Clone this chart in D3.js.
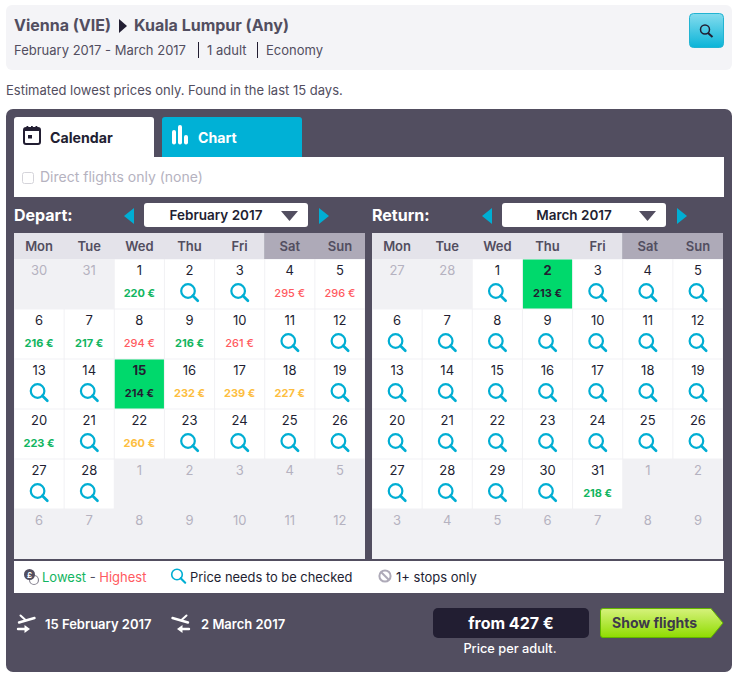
<!DOCTYPE html>
<html>
<head>
<meta charset="utf-8">
<script src="https://cdn.jsdelivr.net/npm/d3@7"></script>
<style>
  body { margin: 0; background: white; }
  text { font-family: Inter, "Noto Sans", sans-serif; }
</style>
</head>
<body>
<svg id="chart" width="739" height="680"></svg>
<script>
const svg = d3.select("#chart");
const days = ["Mon", "Tue", "Wed", "Thu", "Fri", "Sat", "Sun"];
const bandColor = {low: "#12b561", mid: "#fdbe3f", high: "#ff5a60"};

// price per day, band is the colour the site gives it
const months = [
  {
    label: "Depart:", title: "February 2017", x: 14, lead: [30, 31], count: 28,
    trail: [1, 2, 3, 4, 5, 6, 7, 8, 9, 10, 11, 12], selected: 15,
    prices: {
      1: [220, "low"], 4: [295, "high"], 5: [296, "high"], 6: [216, "low"], 7: [217, "low"],
      8: [294, "high"], 9: [216, "low"], 10: [261, "high"], 15: [214, "low"], 16: [232, "mid"],
      17: [239, "mid"], 18: [227, "mid"], 20: [223, "low"], 22: [260, "mid"]
    }
  },
  {
    label: "Return:", title: "March 2017", x: 372, lead: [27, 28], count: 31,
    trail: [1, 2, 3, 4, 5, 6, 7, 8, 9], selected: 2,
    prices: {2: [213, "low"], 31: [218, "low"]}
  }
];

function rect(x, y, w, h, fill, r) {
  return svg.append("rect").attr("x", x).attr("y", y).attr("width", w).attr("height", h)
    .attr("fill", fill).attr("rx", r || 0);
}
function label(x, y, str, size, weight, color, anchor) {
  return svg.append("text").attr("x", x).attr("y", y).text(str)
    .attr("font-size", size).attr("font-weight", weight).attr("fill", color)
    .attr("text-anchor", anchor || "start");
}
function lens(g, cx, cy, r, len, w) {
  g.append("circle").attr("cx", cx).attr("cy", cy).attr("r", r)
    .attr("fill", "none").attr("stroke", "#00aed3").attr("stroke-width", w);
  g.append("line").attr("x1", cx + r * 0.7).attr("y1", cy + r * 0.7)
    .attr("x2", cx + r * 0.7 + len).attr("y2", cy + r * 0.7 + len)
    .attr("stroke", "#00aed3").attr("stroke-width", w + 0.5).attr("stroke-linecap", "round");
}

// gradients
const defs = svg.append("defs");
function grad(id, a, b) {
  const g = defs.append("linearGradient").attr("id", id).attr("x1", 0).attr("x2", 0).attr("y1", 0).attr("y2", 1);
  g.append("stop").attr("offset", "0%").attr("stop-color", a);
  g.append("stop").attr("offset", "100%").attr("stop-color", b);
}
grad("btnBlue", "#85dcee", "#0bb4d8");
grad("btnGreen", "#d6f27c", "#8fdc00");

// top box
rect(6, 5, 726, 65, "#f4f4f7", 6);
label(14, 31, "Vienna (VIE)", 16, 700, "#524e60");
svg.append("path").attr("d", "M119 19 L127 26 L119 33 Z").attr("fill", "#221e32");
label(134, 31, "Kuala Lumpur (Any)", 16, 700, "#524e60");
label(14, 55, "February 2017 - March 2017", 13, 400, "#524e60");
rect(198, 42, 1, 16, "#221e32");
label(207, 55, "1 adult", 13, 400, "#524e60");
rect(257, 42, 1, 16, "#221e32");
label(266, 55, "Economy", 13, 400, "#524e60");
svg.append("rect").attr("x", 689.5).attr("y", 13.5).attr("width", 34).attr("height", 34).attr("rx", 4)
  .attr("fill", "url(#btnBlue)").attr("stroke", "#22b4d2");
svg.append("circle").attr("cx", 705).attr("cy", 29.5).attr("r", 4.5).attr("fill", "none").attr("stroke", "#221e32").attr("stroke-width", 1.5);
svg.append("line").attr("x1", 708).attr("y1", 33).attr("x2", 712.5).attr("y2", 37).attr("stroke", "#221e32").attr("stroke-width", 2);

label(6, 95, "Estimated lowest prices only. Found in the last 15 days.", 13, 400, "#524e60");

// main panel
rect(6, 109, 726, 563, "#524e60", 7);

// tabs
svg.append("path").attr("d", "M14 157 V120 Q14 117 17 117 H151 Q154 117 154 120 V157 Z").attr("fill", "white");
svg.append("path").attr("d", "M162 157 V120 Q162 117 165 117 H299 Q302 117 302 120 V157 Z").attr("fill", "#00b1d6");
rect(24, 128, 16, 16, "none", 2).attr("stroke", "#221e32").attr("stroke-width", 2);
rect(24, 128, 16, 3, "#221e32");
rect(28, 135, 4, 3.5, "#221e32");
rect(26.5, 126, 1.8, 2.5, "#221e32");
rect(31, 126, 1.8, 2.5, "#221e32");
rect(35.5, 126, 1.8, 2.5, "#221e32");
label(50, 143, "Calendar", 14.2, 700, "#221e32");
[[172, 130, 14.5], [178, 125, 19.5], [184, 135, 9.5]].forEach(b => {
  rect(b[0], b[1], 4, b[2], "white", 2);
});
label(198, 143, "Chart", 14.2, 700, "white");

// direct flights bar
rect(14, 157, 710, 40, "white");
rect(22.5, 172.5, 11, 11, "white", 2).attr("stroke", "#d5d4da");
label(40, 182, "Direct flights only (none)", 14, 400, "#b5b2c0");

// calendars
months.forEach(m => {
  const w = 351;
  const x = d3.scaleBand().domain(d3.range(7)).range([m.x, m.x + w]);
  const y = d3.scaleBand().domain(d3.range(6)).range([259, 559]);

  label(m.x, 221, m.label, 16, 700, "white");
  const off = m.x + 130;
  svg.append("path").attr("d", `M${off - 10} 208 L${off - 20} 216 L${off - 10} 224 Z`).attr("fill", "#00aed3");
  svg.append("path").attr("d", `M${off + 175} 208 L${off + 185} 216 L${off + 175} 224 Z`).attr("fill", "#00aed3");
  rect(off, 203, 164, 24, "white", 3);
  label(off + 72, 220, m.title, 13.5, 600, "#221e32", "middle");
  svg.append("path").attr("d", `M${off + 137} 211 H${off + 154} L${off + 145.5} 221 Z`).attr("fill", "#524e60");

  // weekday header
  rect(x(0), 233, x(5) - x(0), 26, "#e4e3ea");
  rect(x(5), 233, x.bandwidth() * 2, 26, "#aeaab8");
  days.forEach((d, i) => {
    label(x(i) + x.bandwidth() / 2, 251, d, 13, 600, "#524e60", "middle");
  });

  const cells = [
    ...m.lead.map(d => ({day: d, out: true})),
    ...d3.range(1, m.count + 1).map(d => ({day: d, out: false})),
    ...m.trail.map(d => ({day: d, out: true}))
  ];
  rect(m.x, 259, w, 300, "#f1f1f4");

  cells.forEach((c, i) => {
    const col = i % 7, row = Math.floor(i / 7);
    const cx = x(col) + x.bandwidth() / 2, top = y(row);
    const sel = !c.out && c.day === m.selected;
    if (!c.out) rect(x(col) + 0.5, top + 0.5, x.bandwidth() - 1, y.bandwidth() - 1, sel ? "#00d96c" : "white");
    label(cx, top + 16, c.day, 13, sel ? 700 : 400, c.out ? "#b5b2c0" : "#221e32", "middle");
    if (c.out) return;
    const p = m.prices[c.day];
    if (p) {
      label(cx, top + 38, p[0] + " €", 11, sel || p[1] === "low" || p[1] === "mid" ? 700 : 500,
        sel ? "#221e32" : bandColor[p[1]], "middle");
    } else {
      lens(svg.append("g"), cx - 1.5, top + 32, 6.8, 5, 2.2);
    }
  });
});

// legend bar
rect(14, 561, 710, 32, "white");
svg.append("circle").attr("cx", 34).attr("cy", 580).attr("r", 4.5).attr("fill", "none").attr("stroke", "#8a8794").attr("stroke-width", 1.2);
svg.append("circle").attr("cx", 29.5).attr("cy", 574.5).attr("r", 5.5).attr("fill", "#524e60");
label(29.5, 577.5, "£", 8, 700, "white", "middle");
let legend = label(42, 582, "", 13, 400, "#524e60");
legend.append("tspan").attr("fill", "#12b561").text("Lowest");
legend.append("tspan").text(" - ");
legend.append("tspan").attr("fill", "#ff5a60").text("Highest");
lens(svg.append("g"), 177, 574.5, 5.3, 4.5, 1.6);
label(190, 582, "Price needs to be checked", 12.9, 400, "#221e32");
svg.append("circle").attr("cx", 385).attr("cy", 576).attr("r", 5.6).attr("fill", "none").attr("stroke", "#aeaab8").attr("stroke-width", 2);
svg.append("line").attr("x1", 381).attr("y1", 572).attr("x2", 389).attr("y2", 580).attr("stroke", "#aeaab8").attr("stroke-width", 2);
label(396, 582, "1+ stops only", 13, 400, "#221e32");

// footer, plane icons
function planes(x0, flip) {
  const g = svg.append("g").attr("stroke", "white").attr("stroke-linecap", "round");
  // mirror the return icon around the middle of the 18px icon
  const px = v => flip ? x0 + 18 - v : x0 + v;
  g.append("line").attr("x1", px(2)).attr("y1", 622.5).attr("x2", px(17.5)).attr("y2", 618).attr("stroke-width", 2.4);
  g.append("line").attr("x1", px(3.5)).attr("y1", 615.5).attr("x2", px(8.5)).attr("y2", 620).attr("stroke-width", 2);
  g.append("line").attr("x1", px(1)).attr("y1", 629).attr("x2", px(9)).attr("y2", 629).attr("stroke-width", 2.4);
  g.append("path").attr("stroke", "none").attr("fill", "white")
    .attr("d", `M${px(13)} 629 L${px(7.5)} 625 V633 Z`);
}
planes(17, false);
label(45, 629, "15 February 2017", 13, 600, "white");
planes(172, true);
label(201, 629, "2 March 2017", 13, 600, "white");

rect(433, 608, 156, 30, "#221e32", 5);
label(511, 629, "from 427 €", 16, 700, "white", "middle");
label(510, 653, "Price per adult.", 12.8, 500, "white", "middle");

svg.append("path").attr("d", "M603 608.5 H711 L723 623 L711 637.5 H603 Q600.5 637.5 600.5 635 V611 Q600.5 608.5 603 608.5 Z")
  .attr("fill", "url(#btnGreen)").attr("stroke", "#63b500");
label(612, 628, "Show flights", 14, 700, "#3d3a4a");
</script>
</body>
</html>
